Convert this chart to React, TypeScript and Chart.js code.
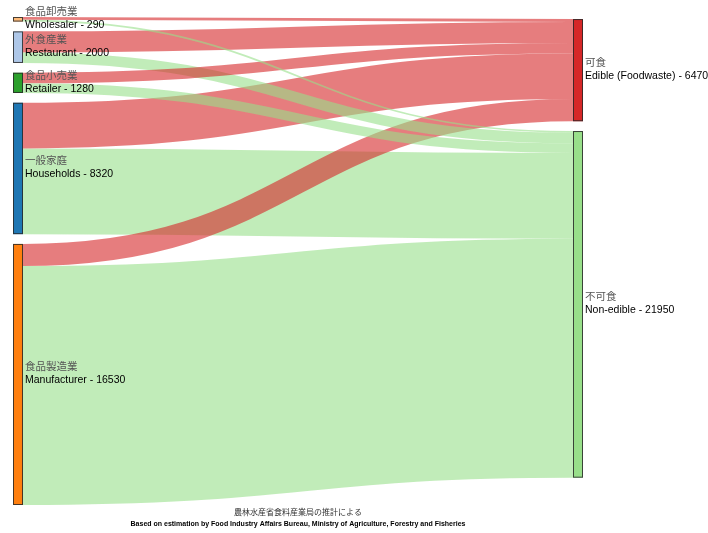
import React, { useEffect, useRef } from "react";
import { Chart, registerables } from "chart.js";

Chart.register(...registerables);

// ---- data (thousand tonnes) ----
const sourceNamesEn = ["Wholesaler", "Restaurant", "Retailer", "Households", "Manufacturer"];
const sourceNamesJa = ["食品卸売業", "外食産業", "食品小売業", "一般家庭", "食品製造業"];
const targetNamesEn = ["Edible (Foodwaste)", "Non-edible"];
const targetNamesJa = ["可食", "不可食"];
const edibleValues = [180, 1330, 670, 2890, 1400];
const nonEdibleValues = [110, 670, 610, 5430, 15130];
const sourceColors = ["#ffbb78", "#aec7e8", "#2ca02c", "#1f77b4", "#ff7f0e"];
const targetColors = ["#d62728", "#98df8a"];
const linkColors = ["rgba(214,39,40,0.6)", "rgba(152,223,138,0.6)"];
const footerJa = "農林水産省食料産業局の推計による";
const footerEn = "Based on estimation by Food Industry Affairs Bureau, Ministry of Agriculture, Forestry and Fisheries";

// layout parameters (in value units)
const NODE_PAD = 620;
const RIGHT_OFFSET = 130;
const NODE_W = 10;

const linkValues = [edibleValues, nonEdibleValues];
const sourceTotals = sourceNamesEn.map((_, i) => edibleValues[i] + nonEdibleValues[i]);
const targetTotals = linkValues.map((arr) => arr.reduce((a, b) => a + b, 0));
const Y_MAX = sourceTotals.reduce((a, b) => a + b, 0) + (sourceTotals.length - 1) * NODE_PAD;

const JA_FONT = '"Noto Sans CJK JP", "Liberation Sans", sans-serif';
const EN_FONT = '"Liberation Sans", Arial, "Noto Sans CJK JP", sans-serif';

const sankeyPlugin = {
  id: "sankeyDraw",
  afterDatasetsDraw(chart: any) {
    const ctx = chart.ctx as CanvasRenderingContext2D;
    const xs = chart.scales.x;
    const ys = chart.scales.y;
    const py = (v: number) => ys.getPixelForValue(v);
    const leftX0 = xs.getPixelForValue(0);
    const rightX1 = xs.getPixelForValue(1);
    const leftX1 = leftX0 + NODE_W;
    const rightX0 = rightX1 - NODE_W;

    // node positions in value units
    const srcY0: number[] = [];
    let acc = 0;
    sourceTotals.forEach((t) => {
      srcY0.push(acc);
      acc += t + NODE_PAD;
    });
    const tgtY0: number[] = [];
    acc = RIGHT_OFFSET;
    targetTotals.forEach((t) => {
      tgtY0.push(acc);
      acc += t + NODE_PAD;
    });

    // links
    type L = { s: number; t: number; v: number; sy: number; ty: number };
    const links: L[] = [];
    const srcOff = [...srcY0];
    const tgtOff = [...tgtY0];
    for (let s = 0; s < sourceTotals.length; s++) {
      for (let t = 0; t < targetTotals.length; t++) {
        const v = linkValues[t][s];
        links.push({ s, t, v, sy: srcOff[s], ty: 0 });
        srcOff[s] += v;
      }
    }
    for (let t = 0; t < targetTotals.length; t++) {
      for (let s = 0; s < sourceTotals.length; s++) {
        const l = links.find((k) => k.s === s && k.t === t)!;
        l.ty = tgtOff[t];
        tgtOff[t] += l.v;
      }
    }
    const sorted = [...links].sort((a, b) => b.v - a.v);
    ctx.save();
    sorted.forEach((l) => {
      const w = Math.abs(py(l.v) - py(0));
      const y0 = py(l.sy + l.v / 2);
      const y1 = py(l.ty + l.v / 2);
      const xm = (leftX1 + rightX0) / 2;
      ctx.beginPath();
      ctx.moveTo(leftX1, y0);
      ctx.bezierCurveTo(xm, y0, xm, y1, rightX0, y1);
      ctx.lineWidth = Math.max(1, w);
      ctx.lineCap = "butt";
      ctx.strokeStyle = linkColors[l.t];
      ctx.stroke();
    });

    // nodes
    const drawNode = (x: number, v0: number, v: number, color: string) => {
      const top = py(v0);
      const h = py(v0 + v) - top;
      ctx.fillStyle = color;
      ctx.fillRect(x, top, NODE_W, h);
      ctx.lineWidth = 1;
      ctx.strokeStyle = "rgba(40,40,40,0.85)";
      ctx.strokeRect(x + 0.5, top + 0.5, NODE_W - 1, Math.max(1, h - 1));
    };
    const drawLabel = (x: number, yc: number, ja: string, en: string) => {
      ctx.textAlign = "left";
      ctx.textBaseline = "middle";
      ctx.fillStyle = "#555";
      ctx.font = `10.5px ${JA_FONT}`;
      ctx.fillText(ja, x, yc - 8);
      ctx.fillStyle = "#000";
      ctx.font = `10.5px ${EN_FONT}`;
      ctx.fillText(en, x, yc + 6);
    };
    sourceTotals.forEach((t, i) => {
      drawNode(leftX0, srcY0[i], t, sourceColors[i]);
    });
    targetTotals.forEach((t, i) => {
      drawNode(rightX0, tgtY0[i], t, targetColors[i]);
    });
    sourceTotals.forEach((t, i) => {
      drawLabel(leftX1 + 2, py(srcY0[i] + t / 2), sourceNamesJa[i], `${sourceNamesEn[i]} - ${t}`);
    });
    targetTotals.forEach((t, i) => {
      drawLabel(rightX1 + 2, py(tgtY0[i] + t / 2), targetNamesJa[i], `${targetNamesEn[i]} - ${t}`);
    });

    // footer
    const cx = (leftX0 + rightX1) / 2;
    const bottom = chart.chartArea.bottom;
    ctx.textAlign = "center";
    ctx.textBaseline = "middle";
    ctx.fillStyle = "#333";
    ctx.font = `8px ${JA_FONT}`;
    ctx.fillText(footerJa, cx, bottom + 7);
    ctx.fillStyle = "#000";
    ctx.font = `bold 7px ${EN_FONT}`;
    ctx.fillText(footerEn, cx, bottom + 19);
    ctx.restore();
  },
};

export default function App() {
  const ref = useRef<HTMLCanvasElement | null>(null);
  useEffect(() => {
    if (!ref.current) return;
    const chart = new Chart(ref.current, {
      type: "scatter",
      data: { datasets: [{ data: [] }] },
      options: {
        animation: false,
        responsive: false,
        events: [],
        layout: { padding: { top: 17, bottom: 28, left: 13, right: 125 } },
        scales: {
          x: { type: "linear", min: 0, max: 1, display: false },
          y: { type: "linear", min: 0, max: Y_MAX, reverse: true, display: false },
        },
        plugins: { legend: { display: false }, tooltip: { enabled: false }, title: { display: false } },
      },
      plugins: [sankeyPlugin],
    });
    return () => chart.destroy();
  }, []);
  return (
    <div style={{ position: "fixed", left: 0, top: 0, width: 708, height: 533, background: "#fff" }}>
      <canvas ref={ref} width={708} height={533} style={{ width: 708, height: 533, display: "block" }} />
    </div>
  );
}
